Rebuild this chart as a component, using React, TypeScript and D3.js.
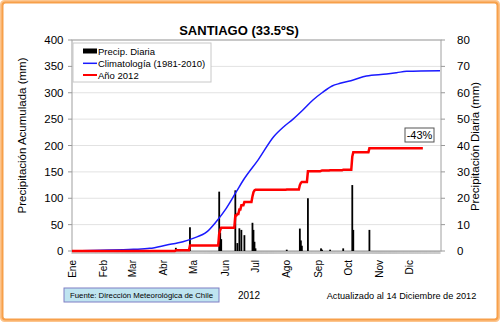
import React from "react";
import * as d3 from "d3";

const monthLabels = ["Ene", "Feb", "Mar", "Abr", "Ma", "Jun", "Jul", "Ago", "Sep", "Oct", "Nov", "Dic"];
const leftTicks = [0, 50, 100, 150, 200, 250, 300, 350, 400];
const rightTicks = [0, 10, 20, 30, 40, 50, 60, 70, 80];

// Climatología (1981-2010) accumulated precipitation, mm (month-day)
const climDates = ["01-01", "01-29", "03-02", "03-18", "04-04", "04-20", "04-30", "05-14", "05-23", "06-02", "06-12", "06-19", "07-04", "07-19", "07-29", "08-07", "08-17", "08-27", "09-05", "09-15", "09-23", "10-06", "10-19", "11-08", "11-18", "11-28", "12-31"];
const climValues = [0, 1.3, 3.2, 5, 11.4, 17.7, 24, 36.6, 55.5, 80.9, 112.4, 134.6, 173.8, 216.7, 235.6, 249.6, 267.3, 286.3, 300, 312.8, 317.9, 324.2, 331.8, 335.5, 338, 340.7, 341.8];

// Precipitación diaria 2012, mm
const rainDates = ["04-13", "04-27", "05-26", "05-27", "05-28", "06-11", "06-13", "06-15", "06-17", "06-20", "06-28", "06-29", "06-30", "07-01", "08-01", "08-14", "08-15", "08-16", "08-22", "09-04", "09-05", "09-13", "09-26", "10-05", "10-06", "10-22"];
const rainValues = [1.2, 9, 22.5, 7, 4.5, 23, 3, 8.6, 8, 6, 10.7, 8, 3.5, 1, 0.5, 8.5, 4, 2, 20, 1, 0.5, 0.5, 1, 25, 8, 8];
const lastUpdate = "12-14";

const FONT = "'Liberation Sans', Arial, Helvetica, sans-serif";

const parse = d3.timeParse("%Y-%m-%d");
const d = (md: string) => parse("2012-" + md) as Date;

export default function App() {
  const W = 500, H = 322;
  const L = 72, R = 441, T = 40, B = 251;
  const x = d3.scaleTime().domain([d("01-01"), parse("2013-01-01") as Date]).range([L, R]);
  const yL = d3.scaleLinear().domain([0, 400]).range([B, T]);
  const yR = d3.scaleLinear().domain([0, 80]).range([B, T]);

  const clim = climDates.map((m, i) => ({ date: d(m), v: climValues[i] }));
  const rainMap = new Map<number, number>();
  rainDates.forEach((m, i) => rainMap.set(+d(m), rainValues[i]));
  const days = d3.timeDay.range(d("01-01"), d3.timeDay.offset(d(lastUpdate), 1));
  let acc = 0;
  const cum = days.map((day) => {
    acc += rainMap.get(+day) || 0;
    return { date: day, v: acc };
  });

  const climLine = d3.line<{ date: Date; v: number }>().x((p) => x(p.date)).y((p) => yL(p.v)).curve(d3.curveMonotoneX);
  const cumLine = d3.line<{ date: Date; v: number }>().x((p) => x(p.date)).y((p) => yL(p.v));

  const months = d3.timeMonth.range(d("01-01"), parse("2013-01-01") as Date);
  const allDays = d3.timeDay.range(d("01-01"), parse("2013-01-01") as Date);

  return (
    <svg width={W} height={H} style={{ position: "absolute", left: 0, top: 0, fontFamily: FONT }}>
      <rect x={0} y={0} width={W} height={H} fill="#fff" />
      <rect x={1.5} y={1.5} width={W - 3} height={H - 3} rx={3} fill="none" stroke="#fcc58e" strokeWidth={3} />
      <rect x={2.5} y={2.5} width={W - 5} height={H - 5} rx={3} fill="none" stroke="#f7a04a" strokeWidth={2} />

      <text x={239} y={35} textAnchor="middle" fontSize={13} fontWeight="bold" fill="#000">SANTIAGO (33.5ºS)</text>

      {/* grid */}
      {leftTicks.map((t) => (
        <line key={"g" + t} x1={L} x2={R} y1={yL(t)} y2={yL(t)} stroke="#e2e2e2" strokeWidth={1} />
      ))}
      <rect x={L} y={T} width={R - L} height={B - T} fill="none" stroke="#a0a0a0" strokeWidth={1} />

      {/* left axis */}
      {leftTicks.map((t) => (
        <g key={"l" + t}>
          <line x1={L - 4} x2={L} y1={yL(t)} y2={yL(t)} stroke="#999" />
          <text x={63.5} y={yL(t) + 4} textAnchor="end" fontSize={11.5} fill="#000">{t}</text>
        </g>
      ))}
      {/* right axis */}
      {rightTicks.map((t) => (
        <g key={"r" + t}>
          <line x1={R} x2={R + 4} y1={yR(t)} y2={yR(t)} stroke="#999" />
          <text x={457} y={yR(t) + 4} textAnchor="start" fontSize={11.5} fill="#000">{t}</text>
        </g>
      ))}
      <text transform={`translate(26,${(T + B) / 2 - 10}) rotate(-90)`} textAnchor="middle" fontSize={11.5} fill="#000">Precipitación Acumulada (mm)</text>
      <text transform={`translate(479,${(T + B) / 2 + 1}) rotate(-90)`} textAnchor="middle" fontSize={11.5} fill="#000">Precipitación Diaria (mm)</text>

      {/* daily ticks */}
      {allDays.map((day, i) => (
        <line key={"dt" + i} x1={x(day)} x2={x(day)} y1={B} y2={B + 3} stroke="#9a9a9a" strokeWidth={0.6} />
      ))}
      {/* month labels */}
      {months.map((m, i) => (
        <text key={"m" + i} transform={`translate(${x(m) + 3.5},260) rotate(-90)`} textAnchor="end" fontSize={10} fill="#000">{monthLabels[i]}</text>
      ))}

      {/* daily bars */}
      {rainDates.map((m, i) => (
        <rect key={"b" + i} x={x(d(m)) - 0.9} y={yR(rainValues[i])} width={1.8} height={B - yR(rainValues[i])} fill="#000" />
      ))}

      <path d={climLine(clim) || ""} fill="none" stroke="#1a1aff" strokeWidth={1.5} />
      <path d={cumLine(cum) || ""} fill="none" stroke="#ff0000" strokeWidth={2.5} />

      {/* legend */}
      <rect x={73} y={43} width={138} height={39} fill="#fff" stroke="#c8c8c8" strokeWidth={1} />
      <rect x={83} y={48.5} width={14} height={5} fill="#000" />
      <text x={98} y={54.5} fontSize={9.5} fill="#000">Precip. Diaria</text>
      <line x1={83} x2={97} y1={63.3} y2={63.3} stroke="#1a1aff" strokeWidth={1.5} />
      <text x={98} y={66.5} fontSize={9.5} fill="#000">Climatología (1981-2010)</text>
      <line x1={83} x2={97} y1={75} y2={75} stroke="#ff0000" strokeWidth={2} />
      <text x={98} y={78.5} fontSize={9.5} fill="#000">Año 2012</text>

      {/* anomaly box */}
      <rect x={405} y={128} width={29} height={14} fill="#fff" stroke="#555" strokeWidth={1} />
      <text x={419.5} y={139} textAnchor="middle" fontSize={11} fill="#000">-43%</text>

      {/* footer */}
      <rect x={64} y={288} width={155} height={14} fill="#bfe4f0" stroke="#7f7fc4" strokeWidth={1} />
      <text x={141.5} y={298} textAnchor="middle" fontSize={7.8} fill="#000">Fuente: Dirección Meteorológica de Chile</text>
      <text x={249} y={299} textAnchor="middle" fontSize={10} fill="#000">2012</text>
      <text x={401.5} y={298.5} textAnchor="middle" fontSize={9.2} fill="#000">Actualizado al 14 Diciembre de 2012</text>
    </svg>
  );
}
